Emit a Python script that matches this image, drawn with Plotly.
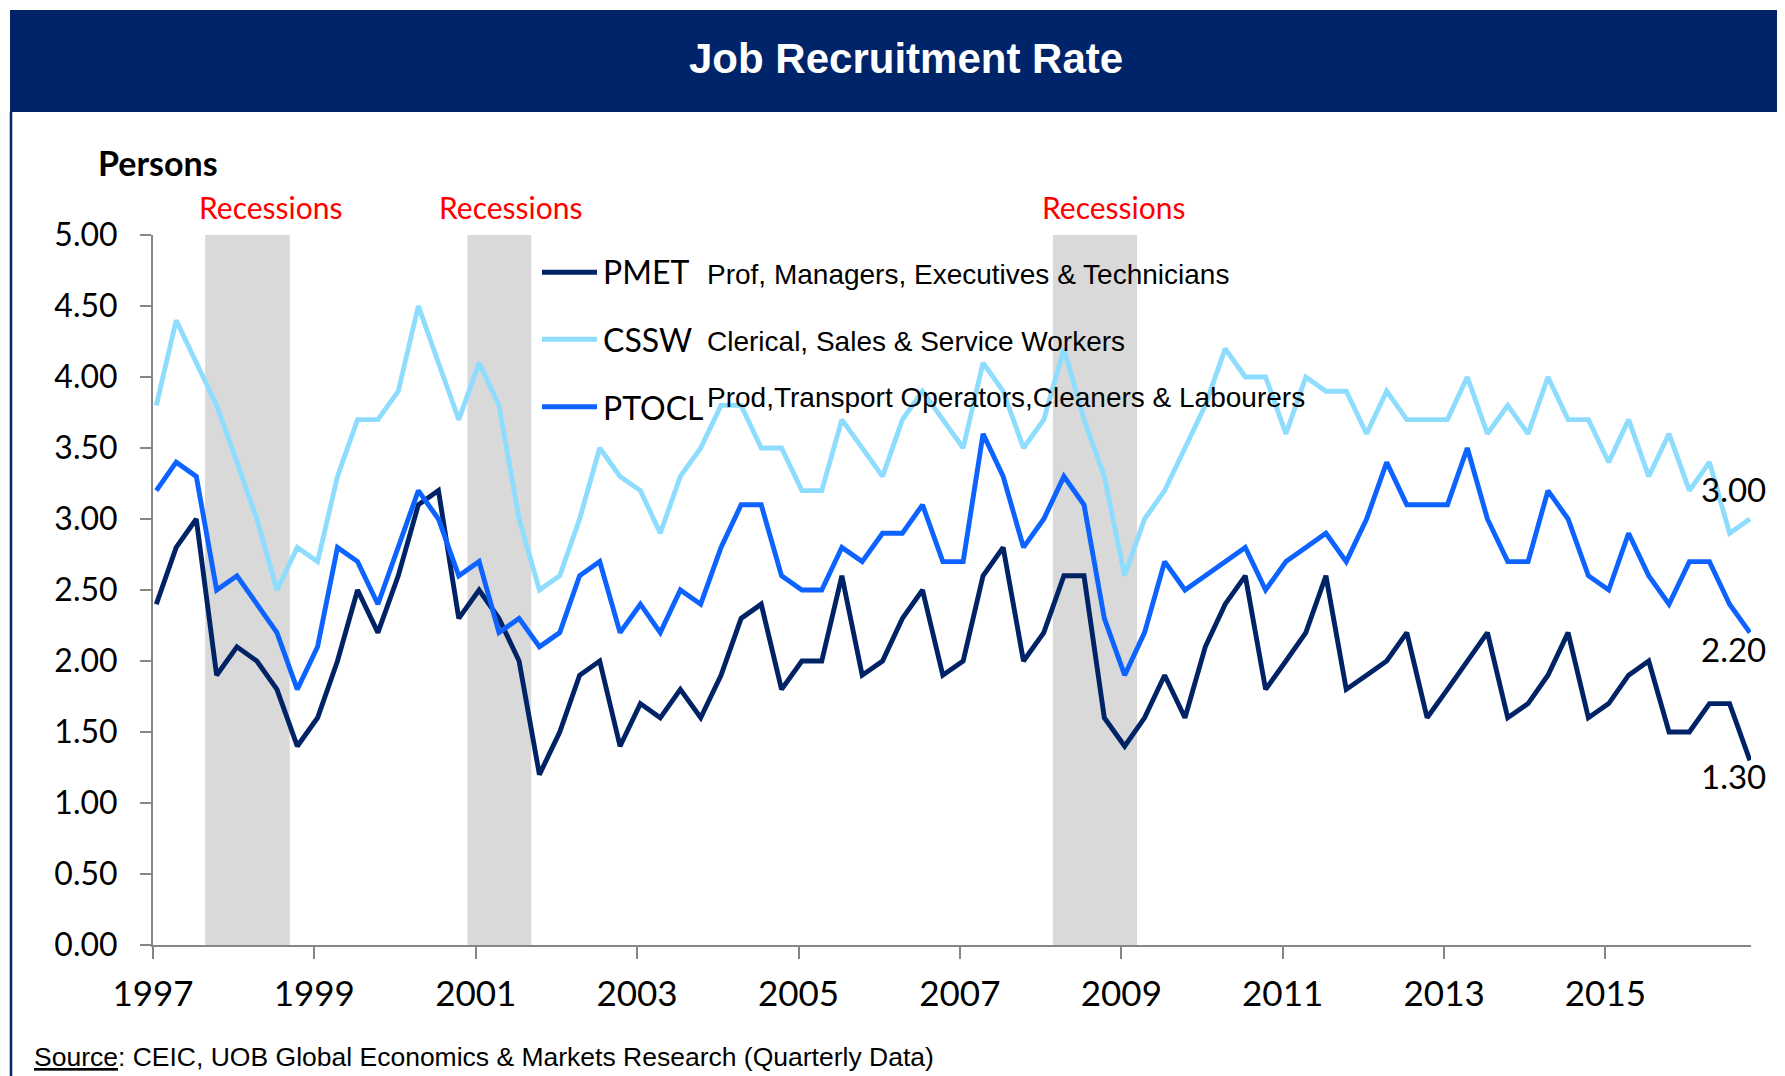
import pandas as pd
import plotly.graph_objects as go

# ---------------- data ----------------
series_names = ["PMET", "CSSW", "PTOCL"]
series_desc = [
    "Prof, Managers, Executives & Technicians",
    "Clerical, Sales & Service Workers",
    "Prod,Transport Operators,Cleaners & Labourers",
]
series_colors = ["#002366", "#8EDDFF", "#0D63FF"]

pmet = [2.4, 2.8, 3.0, 1.9, 2.1, 2.0, 1.8, 1.4, 1.6, 2.0,
        2.5, 2.2, 2.6, 3.1, 3.2, 2.3, 2.5, 2.3, 2.0, 1.2,
        1.5, 1.9, 2.0, 1.4, 1.7, 1.6, 1.8, 1.6, 1.9, 2.3,
        2.4, 1.8, 2.0, 2.0, 2.6, 1.9, 2.0, 2.3, 2.5, 1.9,
        2.0, 2.6, 2.8, 2.0, 2.2, 2.6, 2.6, 1.6, 1.4, 1.6,
        1.9, 1.6, 2.1, 2.4, 2.6, 1.8, 2.0, 2.2, 2.6, 1.8,
        1.9, 2.0, 2.2, 1.6, 1.8, 2.0, 2.2, 1.6, 1.7, 1.9,
        2.2, 1.6, 1.7, 1.9, 2.0, 1.5, 1.5, 1.7, 1.7, 1.3]

cssw = [3.8, 4.4, 4.1, 3.8, 3.4, 3.0, 2.5, 2.8, 2.7, 3.3,
        3.7, 3.7, 3.9, 4.5, 4.1, 3.7, 4.1, 3.8, 3.0, 2.5,
        2.6, 3.0, 3.5, 3.3, 3.2, 2.9, 3.3, 3.5, 3.8, 3.8,
        3.5, 3.5, 3.2, 3.2, 3.7, 3.5, 3.3, 3.7, 3.9, 3.7,
        3.5, 4.1, 3.9, 3.5, 3.7, 4.2, 3.7, 3.3, 2.6, 3.0,
        3.2, 3.5, 3.8, 4.2, 4.0, 4.0, 3.6, 4.0, 3.9, 3.9,
        3.6, 3.9, 3.7, 3.7, 3.7, 4.0, 3.6, 3.8, 3.6, 4.0,
        3.7, 3.7, 3.4, 3.7, 3.3, 3.6, 3.2, 3.4, 2.9, 3.0]

ptocl = [3.2, 3.4, 3.3, 2.5, 2.6, 2.4, 2.2, 1.8, 2.1, 2.8,
         2.7, 2.4, 2.8, 3.2, 3.0, 2.6, 2.7, 2.2, 2.3, 2.1,
         2.2, 2.6, 2.7, 2.2, 2.4, 2.2, 2.5, 2.4, 2.8, 3.1,
         3.1, 2.6, 2.5, 2.5, 2.8, 2.7, 2.9, 2.9, 3.1, 2.7,
         2.7, 3.6, 3.3, 2.8, 3.0, 3.3, 3.1, 2.3, 1.9, 2.2,
         2.7, 2.5, 2.6, 2.7, 2.8, 2.5, 2.7, 2.8, 2.9, 2.7,
         3.0, 3.4, 3.1, 3.1, 3.1, 3.5, 3.0, 2.7, 2.7, 3.2,
         3.0, 2.6, 2.5, 2.9, 2.6, 2.4, 2.7, 2.7, 2.4, 2.2]

series_values = [pmet, cssw, ptocl]

dates = pd.date_range("1997-01-01", periods=80, freq="QS") + pd.Timedelta(days=15)

tick_years = list(range(1997, 2017, 2))
y_ticks = [0.0, 0.5, 1.0, 1.5, 2.0, 2.5, 3.0, 3.5, 4.0, 4.5, 5.0]

rec_start = ["1997-08-25", "2000-11-24", "2008-02-26"]
rec_end = ["1998-09-12", "2001-09-09", "2009-03-13"]

# ---------------- layout helpers ----------------
# the page body has an 8px margin, so the figure is drawn 8px in from the window corner
OFF = 8
PAGE_W, PAGE_H = 1785, 1076
W, H = PAGE_W - OFF, PAGE_H - OFF
PLOT_L, PLOT_R, PLOT_T, PLOT_B = 153, 1751, 235, 945   # in page pixels
ML, MR = PLOT_L - OFF, PAGE_W - PLOT_R
MT, MB = PLOT_T - OFF, PAGE_H - PLOT_B
PW, PH = PLOT_R - PLOT_L, PLOT_B - PLOT_T


def px(x):
    return (x - PLOT_L) / PW


def py(y):
    return (PLOT_B - y) / PH


NAVY = "#002469"
AXIS = "#868686"
CAL = "Lato, Carlito, sans-serif"
ARIAL = "Liberation Sans, Arial, sans-serif"

fig = go.Figure()

for name, vals, col in zip(series_names, series_values, series_colors):
    fig.add_trace(go.Scatter(
        x=dates, y=vals, mode="lines", name=name,
        line=dict(color=col, width=4.9), showlegend=False,
        hoverinfo="x+y+name",
    ))

shapes = []
for s, e in zip(rec_start, rec_end):
    shapes.append(dict(type="rect", xref="x", yref="y", x0=s, x1=e, y0=0, y1=5,
                       fillcolor="#D9D9D9", line=dict(width=0), layer="below"))
shapes.append(dict(type="rect", xref="paper", yref="paper",
                   x0=px(10), x1=px(PAGE_W + 2), y0=py(112), y1=py(10),
                   fillcolor=NAVY, line=dict(width=0), layer="above"))
shapes.append(dict(type="line", xref="paper", yref="paper",
                   x0=px(11), x1=px(11), y0=py(112), y1=py(PAGE_H + 2),
                   line=dict(color=NAVY, width=2.5)))
leg_y = [272.3, 339.3, 406.7]
for col, ly in zip(series_colors, leg_y):
    shapes.append(dict(type="line", xref="paper", yref="paper",
                       x0=px(542), x1=px(597), y0=py(ly), y1=py(ly),
                       line=dict(color=col, width=4.9)))

ann = []
ann.append(dict(text="<b>Job Recruitment Rate</b>", x=px(906), y=py(58),
                xref="paper", yref="paper", xanchor="center", yanchor="middle",
                showarrow=False, font=dict(family=ARIAL, size=42, color="white")))
ann.append(dict(text="<b>Persons</b>", x=px(96), y=py(163),
                xref="paper", yref="paper", xanchor="left", yanchor="middle",
                showarrow=False, font=dict(family=CAL, size=34, color="black")))
for cx in [270, 510, 1113]:
    ann.append(dict(text="Recessions", x=px(cx), y=py(207),
                    xref="paper", yref="paper", xanchor="center", yanchor="middle",
                    showarrow=False, font=dict(family=CAL, size=30, color="#FF0000")))
code_y = [271.5, 339, 407.5]
desc_y = [274, 341.5, 397]
for nm, ds, cy, dy in zip(series_names, series_desc, code_y, desc_y):
    ann.append(dict(text=nm, x=px(601), y=py(cy), xref="paper", yref="paper",
                    xanchor="left", yanchor="middle", showarrow=False,
                    font=dict(family=CAL, size=32, color="black")))
    ann.append(dict(text=ds, x=px(705), y=py(dy), xref="paper", yref="paper",
                    xanchor="left", yanchor="middle", showarrow=False,
                    font=dict(family=ARIAL, size=28, color="black")))
end_shift = [30, -16, -16]
order = [1, 2, 0]
for k, ys in zip(order, end_shift):
    v = series_values[k][-1]
    ann.append(dict(text=f"{v:.2f}", x=dates[-1], y=v, xref="x", yref="y",
                    xanchor="center", yanchor="middle", xshift=-16, yshift=ys,
                    showarrow=False, font=dict(family=CAL, size=33, color="black")))
ann.append(dict(text="<u>Source</u>: CEIC, UOB Global Economics & Markets Research (Quarterly Data)",
                x=px(32), y=py(1057), xref="paper", yref="paper",
                xanchor="left", yanchor="middle", showarrow=False,
                font=dict(family=ARIAL, size=26.5, color="black")))

fig.update_layout(
    width=W, height=H,
    margin=dict(l=ML, r=MR, t=MT, b=MB, pad=0),
    paper_bgcolor="white", plot_bgcolor="white",
    shapes=shapes, annotations=ann,
    xaxis=dict(type="date", range=["1997-01-01", "2016-10-21"],
               tickvals=[f"{y}-01-01" for y in tick_years],
               ticktext=[str(y) for y in tick_years],
               ticks="outside", ticklen=12, tickwidth=2, tickcolor=AXIS,
               showline=True, linecolor=AXIS, linewidth=2,
               showgrid=False, zeroline=False,
               tickfont=dict(family=CAL, size=35, color="black"),
               ticklabelstandoff=5),
    yaxis=dict(range=[0, 5], tickvals=y_ticks,
               ticktext=[f"{t:.2f}" for t in y_ticks],
               ticks="outside", ticklen=11, tickwidth=2, tickcolor=AXIS,
               showline=True, linecolor=AXIS, linewidth=2,
               showgrid=False, zeroline=False,
               tickfont=dict(family=CAL, size=32, color="black"),
               ticklabelstandoff=16),
)

fig.write_html("out.html")
